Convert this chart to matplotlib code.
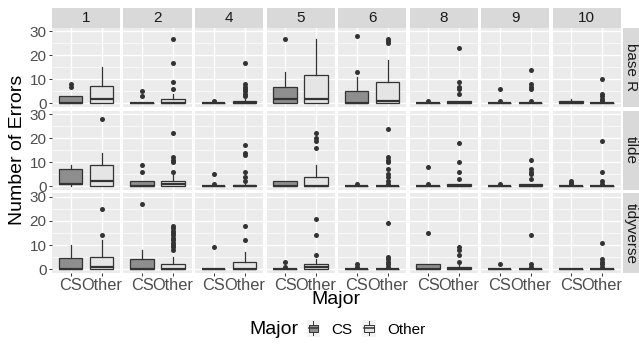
import matplotlib
matplotlib.use('Agg')
import matplotlib.pyplot as plt
from matplotlib.patches import Rectangle, Patch
from matplotlib.lines import Line2D
from matplotlib.legend_handler import HandlerBase

plt.rcParams['font.family'] = ['Liberation Sans', 'DejaVu Sans']

facets = ['1', '2', '4', '5', '6', '8', '9', '10']
styles = ['base R', 'tilde', 'tidyverse']
majors = ['CS', 'Other']

# (lower whisker, q1, median, q3, upper whisker) for each facet
cs_base = [(0, 0, 0, 3, 3), (0, 0, 0, 0, 0), (0, 0, 0, 0, 0), (0, 0, 2, 7, 13),
           (0, 0, 0, 5, 11), (0, 0, 0, 0, 0), (0, 0, 0, 0, 0), (0, 0, 0, 1, 2)]
other_base = [(0, 0, 2, 7.3, 15), (0, 0, 0, 2, 4), (0, 0, 0, 1, 2), (0, 0, 2, 12, 27),
              (0, 0, 1, 9, 18), (0, 0, 0, 1, 1), (0, 0, 0, 0, 0), (0, 0, 0, 0, 0)]
cs_tilde = [(0, 1, 1, 7, 9), (0, 0, 0, 2, 2), (0, 0, 0, 0, 0), (0, 0, 0, 2, 2),
            (0, 0, 0, 0, 0), (0, 0, 0, 0, 0), (0, 0, 0, 0, 0), (0, 0, 0, 0, 0)]
other_tilde = [(0, 0, 2, 9, 14), (0, 0, 1, 2, 5), (0, 0, 0, 0.5, 1), (0, 0, 0, 4, 9),
               (0, 0, 0, 0, 0), (0, 0, 0, 1, 1), (0, 0, 0, 1, 1), (0, 0, 0, 0, 0)]
cs_tidy = [(0, 0, 0, 4.5, 10), (0, 0, 0, 4, 8), (0, 0, 0, 0, 0), (0, 0, 0, 0, 0),
           (0, 0, 0, 0, 0), (0, 0, 0, 2, 2), (0, 0, 0, 0, 0), (0, 0, 0, 0, 0)]
other_tidy = [(0, 0, 1, 5, 12), (0, 0, 0, 2, 5), (0, 0, 0, 3, 7), (0, 0, 1, 2, 4),
              (0, 0, 0, 0, 0), (0, 0, 0, 1, 2), (0, 0, 0, 0, 0), (0, 0, 0, 0, 0)]

# outliers for each facet
cs_base_out = [[7, 8], [3, 5], [1], [27], [13, 28], [1], [1, 6], []]
other_base_out = [[], [6, 9, 17, 27], [3, 4, 5, 6, 7, 8, 17], [], [25, 26, 27],
                  [4, 6, 7, 9, 23], [1, 6, 7, 8, 14], [1, 2, 3, 4, 10]]
cs_tilde_out = [[], [6, 9], [1, 5], [], [1], [1, 8], [1], [1, 1.5, 2]]
other_tilde_out = [[28], [6, 10, 11, 12, 22], [2, 4, 6, 13, 14, 17], [16, 19, 20, 22],
                   [1, 2, 4, 5, 7, 10, 11, 12, 24], [3, 6, 10, 18], [3, 5, 6, 7, 11], [1, 2, 6, 19]]
cs_tidy_out = [[], [27], [9], [1, 3], [1, 2], [15], [2], []]
other_tidy_out = [[14, 25], [8, 9, 10, 11, 12, 13, 14, 15, 16, 17, 18], [12, 18], [6, 14, 21],
                  [1, 2, 3, 4, 5, 19], [3, 6, 8, 9], [1, 2, 14], [1, 2, 3, 4, 11]]

boxes = {'base R': (cs_base, other_base), 'tilde': (cs_tilde, other_tilde),
         'tidyverse': (cs_tidy, other_tidy)}
outliers = {'base R': (cs_base_out, other_base_out), 'tilde': (cs_tilde_out, other_tilde_out),
            'tidyverse': (cs_tidy_out, other_tidy_out)}

fills = ['#8E8E8E', '#E5E5E5']
dark = '#333333'

W, H = 639, 345
fig = plt.figure(figsize=(W / 100, H / 100), dpi=100)


def rect(x, y, w, h):
    return [x / W, 1 - (y + h) / H, w / W, h / H]


left, gap = 52, 3.4
pw, ph = 68.1, 79.4
top0 = 27.7

for r, style in enumerate(styles):
    for c, fac in enumerate(facets):
        x = left + c * (pw + gap)
        y = top0 + r * (ph + gap)
        ax = fig.add_axes(rect(x, y, pw, ph))
        stats = []
        for m in range(2):
            lo, q1, med, q3, hi = boxes[style][m][c]
            stats.append(dict(whislo=lo, q1=q1, med=med, q3=q3, whishi=hi,
                              fliers=outliers[style][m][c]))
        b = ax.bxp(stats, positions=[1, 2], widths=0.75, patch_artist=True,
                   showcaps=False,
                   boxprops=dict(edgecolor=dark, linewidth=0.9),
                   medianprops=dict(color=dark, linewidth=1.6),
                   whiskerprops=dict(color=dark, linewidth=0.9),
                   flierprops=dict(marker='o', markerfacecolor=dark,
                                   markeredgecolor='none', markersize=3.6))
        for patch, col in zip(b['boxes'], fills):
            patch.set_facecolor(col)
        ax.set_xlim(0.4, 2.6)
        ax.set_ylim(-1.5, 31.5)
        ax.set_facecolor('#EBEBEB')
        for s in ax.spines.values():
            s.set_visible(False)
        ax.set_yticks([0, 10, 20, 30])
        ax.set_yticks([5, 15, 25], minor=True)
        ax.set_xticks([1, 2])
        ax.set_xticklabels(majors)
        ax.grid(which='major', color='white', linewidth=1.0)
        ax.grid(which='minor', axis='y', color='white', linewidth=0.5)
        ax.set_axisbelow(True)
        ax.tick_params(which='both', length=2.5, width=0.7, color=dark,
                       labelcolor='#4D4D4D', labelsize=11, pad=1.5)
        ax.tick_params(axis='x', labelsize=11.8, pad=1.0)
        ax.tick_params(which='minor', length=0)
        if c > 0:
            ax.tick_params(axis='y', which='both', length=0, labelleft=False)
        if r < 2:
            ax.tick_params(axis='x', length=0, labelbottom=False)

        if r == 0:
            sax = fig.add_axes(rect(x, 8.3, pw, top0 - 8.3))
            sax.set_facecolor('#D9D9D9')
            sax.set_xticks([])
            sax.set_yticks([])
            for s in sax.spines.values():
                s.set_visible(False)
            sax.text(0.5, 0.5, fac, ha='center', va='center', color='#1A1A1A',
                     fontsize=11, transform=sax.transAxes)
        if c == len(facets) - 1:
            sax = fig.add_axes(rect(623, y, 16, ph))
            sax.set_facecolor('#D9D9D9')
            sax.set_xticks([])
            sax.set_yticks([])
            for s in sax.spines.values():
                s.set_visible(False)
            sax.text(0.5, 0.5, style, ha='center', va='center', color='#1A1A1A',
                     fontsize=11, rotation=-90, transform=sax.transAxes)

fig.text(18 / W, 1 - 150 / H, 'Number of Errors', rotation=90, ha='center',
         va='center', fontsize=14)
fig.text(336 / W, 1 - 299.5 / H, 'Major', ha='center', va='center', fontsize=14)
fig.text(249 / W, 1 - 329 / H, 'Major', ha='left', va='center', fontsize=14)


class BoxKey(HandlerBase):
    def create_artists(self, legend, orig, xd, yd, w, h, fs, trans):
        x0, y0 = -xd, -yd
        cx = x0 + w / 2
        bg = Rectangle((x0 - 1, y0 - 1), w + 2, h + 2, fc='#F2F2F2', ec='none',
                       transform=trans)
        whisk = Line2D([cx, cx], [y0, y0 + h], color=dark, lw=0.7, transform=trans)
        box = Rectangle((x0 + 0.5, y0 + h * 0.25), w - 1, h * 0.5, fc=orig.get_facecolor(),
                        ec=dark, lw=0.7, transform=trans)
        med = Line2D([x0 + 0.5, x0 + w - 0.5], [y0 + h / 2] * 2, color=dark, lw=1.1,
                     transform=trans)
        return [bg, whisk, box, med]


handles = [Patch(facecolor=f) for f in fills]
fig.legend(handles, majors, handler_map={Patch: BoxKey()}, ncol=2, frameon=False,
           loc='center left', bbox_to_anchor=(308 / W, 1 - 329 / H),
           fontsize=11, handlelength=0.7, handleheight=1.0, handletextpad=0.85,
           columnspacing=0.7, borderpad=0, borderaxespad=0)

fig.savefig('out.png', dpi=100)
